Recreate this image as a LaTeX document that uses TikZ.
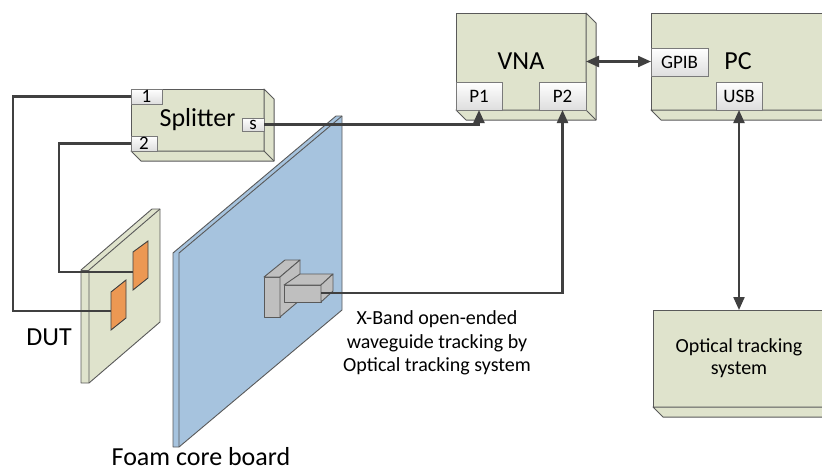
\documentclass[tikz,border=0pt]{standalone}
\usepackage{fontspec}
\setmainfont{Carlito}
\usetikzlibrary{arrows.meta,calc}
\definecolor{boxfill}{RGB}{223,227,204}
\definecolor{edge}{RGB}{89,89,89}
\definecolor{wire}{RGB}{64,64,64}
\definecolor{foamblue}{RGB}{166,195,222}
\definecolor{patchorange}{RGB}{236,152,83}
\definecolor{probegray}{RGB}{191,191,191}
\definecolor{portgray}{RGB}{222,222,222}

% depth faces of a bevelled box (drawn to the lower right of its front face)
\newcommand\bevelbox[1]{%
  \filldraw[depthface] (#1.north east) -- ++(10,10) -- ($(#1.south east)+(10,10)$)
    -- ($(#1.south west)+(10,10)$) -- (#1.south west) -- (#1.south east) -- cycle;
  \draw[depthface] (#1.south east) -- ++(10,10);}

\begin{document}
\begin{tikzpicture}[x=1pt,y=-1pt,
  bigfont/.style={font=\fontsize{26}{30}\selectfont},
  frontface/.style={draw=edge, fill=boxfill, line width=1pt, inner sep=0pt,
    outer sep=0pt, bigfont, anchor=north west},
  depthface/.style={draw=edge, fill=boxfill, line width=1pt, line join=round},
  port/.style={draw=edge!80, top color=white, bottom color=portgray,
    line width=0.8pt, inner sep=0pt, outer sep=0pt,
    font=\fontsize{19}{22}\selectfont},
  cable/.style={draw=wire, line width=2.2pt},
  tip/.style={-{Triangle[length=13pt,width=11pt]}},
  tips/.style={{Triangle[length=13pt,width=11pt]}-{Triangle[length=13pt,width=11pt]}},
  board/.style={draw=edge, fill=boxfill, line width=0.9pt, line join=round},
  foam/.style={draw=edge, fill=foamblue, line width=0.9pt, line join=round},
  patch/.style={draw=wire, fill=patchorange, line width=0.9pt},
  probe/.style={draw=edge, fill=probegray, line width=0.9pt, line join=round},
  caption/.style={bigfont, inner sep=0pt},
  note/.style={font=\fontsize{20}{23.5}\selectfont, align=center, inner sep=0pt}]

\useasboundingbox (0,0) rectangle (822,471);
\clip (0,0) rectangle (822,471);

% ---------- instruments ----------
\node[frontface, minimum width=133pt, minimum height=62pt] (split) at (131,89) {Splitter};
\bevelbox{split}
\node[frontface, minimum width=130pt, minimum height=97pt] (vna) at (456,13) {VNA};
\bevelbox{vna}
\node[frontface, minimum width=174pt, minimum height=97pt] (pc) at (651,13) {PC};
\bevelbox{pc}
\node[frontface, minimum width=172pt, minimum height=97pt, align=center,
  font=\fontsize{20}{22}\selectfont] (opt) at (653,310) {Optical tracking\\system};
\bevelbox{opt}

% ---------- ports ----------
\node[port, anchor=north west, minimum width=31pt, minimum height=15pt] (s1) at (split.north west) {1};
\node[port, anchor=south west, minimum width=26pt, minimum height=15pt] (s2) at (split.south west) {2};
\node[port, anchor=north east, minimum width=22pt, minimum height=13pt] (ss) at (264,118) {s};
\node[port, anchor=south west, minimum width=46pt, minimum height=28pt] (p1) at (vna.south west) {P1};
\node[port, anchor=south east, minimum width=47pt, minimum height=28pt] (p2) at (vna.south east) {P2};
\node[port, anchor=north west, minimum width=57pt, minimum height=28pt] (gpib) at (651,48) {GPIB};
\node[port, anchor=south west, minimum width=46pt, minimum height=28pt] (usb) at (716,110) {USB};

% ---------- device under test ----------
\filldraw[board] (81,270) -- (152,209) -- (160,209) -- (160,322) -- (89,383) -- (81,383) -- cycle;
\draw[board, fill=none] (89,383) -- (89,270) -- (160,209);
\draw[board, fill=none] (81,270) -- (89,270);
\filldraw[patch] (133,252) -- (148,241) -- (148,278) -- (133,290) -- cycle;
\filldraw[patch] (111,292) -- (126,280) -- (126,318) -- (111,330) -- cycle;
\coordinate (patchlow) at (111,311);
\coordinate (patchhigh) at (133,272);

% ---------- foam core board ----------
\filldraw[foam] (173,253) -- (336,116) -- (342,116) -- (342,310) -- (179,447) -- (173,447) -- cycle;
\draw[foam, fill=none] (179,447) -- (179,253) -- (342,116);

% ---------- open-ended waveguide ----------
\filldraw[probe] (264,277) rectangle (280,317);
\filldraw[probe] (264,277) -- (285,260) -- (300,260) -- (280,277) -- cycle;
\filldraw[probe] (280,277) -- (300,260) -- (300,300) -- (280,317) -- cycle;
\filldraw[probe] (284,285) rectangle (321,302);
\filldraw[probe] (284,285) -- (300,274) -- (333,274) -- (321,285) -- cycle;
\filldraw[probe] (321,285) -- (333,274) -- (333,291) -- (321,302) -- cycle;
\coordinate (wg) at (321,293);

% ---------- cables ----------
\draw[cable] (s1.west) -- ++(-118,0) |- (patchlow);
\draw[cable] (s2.west) -- ++(-72,0) |- (patchhigh);
\draw[cable, tip] (ss.east) -| (p1.south);
\draw[cable, tip] (wg) -| (p2.south);
\draw[cable, tips] (vna.east) -- (vna.east -| gpib.west);
\draw[cable, tips] (usb.south) -- (usb.south |- opt.north);

% ---------- captions ----------
\node[caption] (dutlabel) at (49,337) {DUT};
\node[caption] (foamlabel) at (201,457) {Foam core board};
\node[note] (wglabel) at (437,343) {X-Band open-ended\\waveguide tracking by\\Optical tracking system};

\end{tikzpicture}
\end{document}
